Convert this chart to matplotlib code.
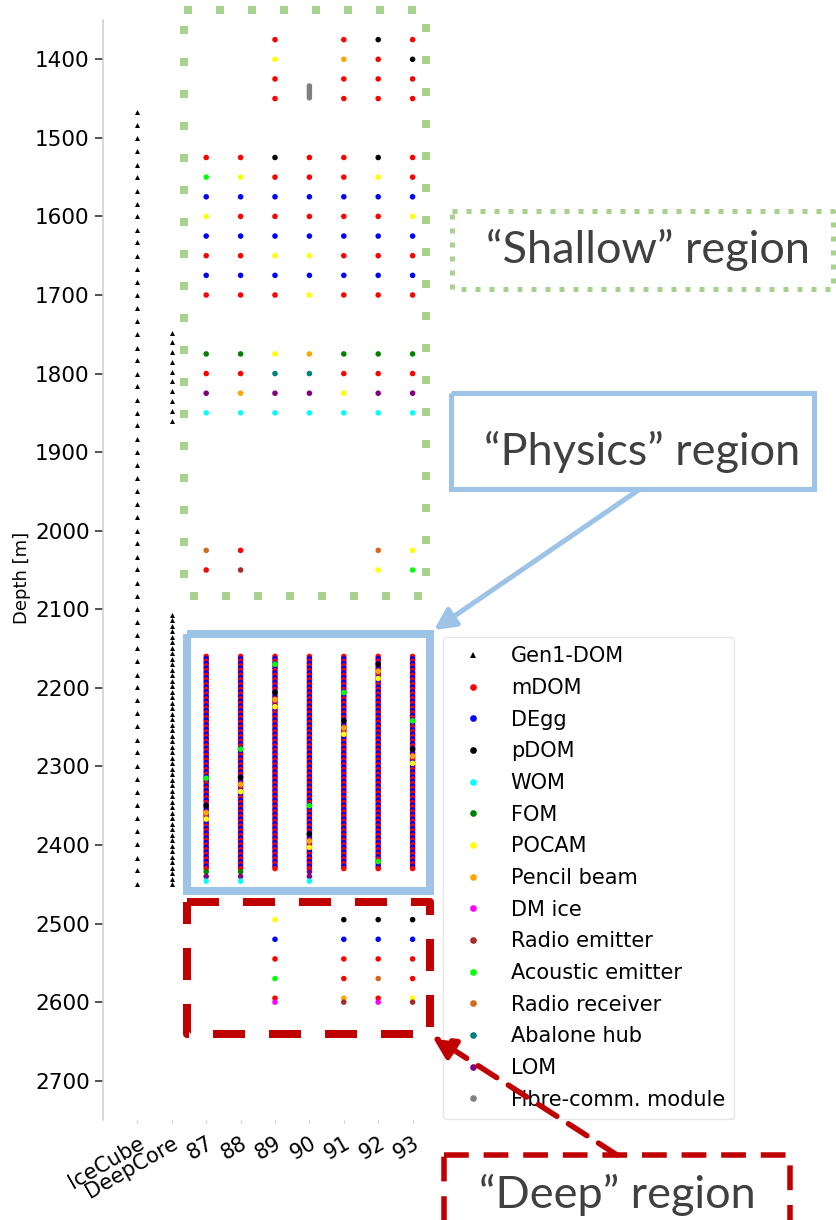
import matplotlib
matplotlib.use('Agg')
import matplotlib.pyplot as plt
from matplotlib.lines import Line2D

# device types and their colours (legend order)
DEVICES = ['Gen1-DOM', 'mDOM', 'DEgg', 'pDOM', 'WOM', 'FOM', 'POCAM', 'Pencil beam',
           'DM ice', 'Radio emitter', 'Acoustic emitter', 'Radio receiver',
           'Abalone hub', 'LOM', 'Fibre-comm. module']
COLORS = ['black', 'red', 'blue', 'black', 'cyan', 'green', 'yellow', 'orange',
          'magenta', 'brown', 'lime', 'chocolate', 'teal', 'purple', 'gray']

XLABELS = ['IceCube', 'DeepCore', '87', '88', '89', '90', '91', '92', '93']
STRINGS = ['87', '88', '89', '90', '91', '92', '93']

# Gen1 DOM depths [m]
ICECUBE_DEPTHS = [1467, 1484, 1500, 1517, 1534, 1550, 1567, 1584, 1600, 1617,
                  1633, 1650, 1667, 1683, 1700, 1717, 1733, 1750, 1767, 1783,
                  1800, 1816, 1833, 1850, 1866, 1883, 1900, 1916, 1933, 1950,
                  1966, 1983, 2000, 2016, 2033, 2049, 2066, 2083, 2099, 2116,
                  2133, 2149, 2166, 2183, 2199, 2216, 2232, 2249, 2266, 2282,
                  2299, 2316, 2332, 2349, 2366, 2382, 2399, 2416, 2432, 2449]
DEEPCORE_DEPTHS = [1748, 1760, 1773, 1785, 1798, 1810, 1822, 1835, 1847, 1860,
                   2107, 2114, 2121, 2128, 2135, 2142, 2149, 2156, 2163, 2170,
                   2177, 2184, 2191, 2198, 2205, 2212, 2219, 2226, 2233, 2240,
                   2247, 2254, 2261, 2268, 2275, 2282, 2289, 2296, 2303, 2310,
                   2317, 2324, 2331, 2338, 2345, 2352, 2359, 2366, 2373, 2380,
                   2387, 2394, 2401, 2408, 2415, 2422, 2429, 2436, 2443, 2450]

# physics region: dense mDOM / DEgg column, same on every string
PHYSICS_DEPTHS = [2160, 2163, 2166, 2169, 2172, 2175, 2178, 2181, 2184, 2187,
                  2190, 2193, 2196, 2199, 2202, 2205, 2208, 2211, 2214, 2217,
                  2220, 2223, 2226, 2229, 2232, 2235, 2238, 2241, 2244, 2247,
                  2250, 2253, 2256, 2259, 2262, 2265, 2268, 2271, 2274, 2277,
                  2280, 2283, 2286, 2289, 2292, 2295, 2298, 2301, 2304, 2307,
                  2310, 2313, 2316, 2319, 2322, 2325, 2328, 2331, 2334, 2337,
                  2340, 2343, 2346, 2349, 2352, 2355, 2358, 2361, 2364, 2367,
                  2370, 2373, 2376, 2379, 2382, 2385, 2388, 2391, 2394, 2397,
                  2400, 2403, 2406, 2409, 2412, 2415, 2418, 2421, 2424, 2427,
                  2430]
PHYSICS_BASE = ['mDOM', 'DEgg']

m, D, pD, W, F, P = 'mDOM', 'DEgg', 'pDOM', 'WOM', 'FOM', 'POCAM'
PB, DM, RE, AE, RR, AB, L, FC = ('Pencil beam', 'DM ice', 'Radio emitter', 'Acoustic emitter',
                                 'Radio receiver', 'Abalone hub', 'LOM', 'Fibre-comm. module')

# special modules inside the physics region
PHYSICS_SPECIAL = {
    '87': [(2315, AE), (2350, pD), (2359, PB), (2367, P), (2434, F), (2440, L), (2446, W)],
    '88': [(2278, AE), (2314, pD), (2323, PB), (2332, P), (2434, F), (2440, L), (2446, W)],
    '89': [(2170, AE), (2206, pD), (2215, PB), (2224, P)],
    '90': [(2350, AE), (2386, pD), (2395, PB), (2403, P), (2434, L), (2440, L), (2446, W)],
    '91': [(2206, AE), (2242, pD), (2251, PB), (2259, P)],
    '92': [(2170, pD), (2179, PB), (2188, P), (2421, AE)],
    '93': [(2242, AE), (2278, pD), (2287, PB), (2296, P)],
}

# shallow + deep region modules
SPARSE = {
    '87': [(1525, m), (1550, AE), (1575, D), (1600, P), (1625, D), (1650, m), (1675, D),
           (1700, m), (1775, F), (1800, m), (1825, L), (1850, W), (2025, RR), (2050, m)],
    '88': [(1525, m), (1550, P), (1575, D), (1600, m), (1625, D), (1650, m), (1675, D),
           (1700, m), (1775, F), (1800, m), (1825, PB), (1850, W), (2025, m), (2050, RE)],
    '89': [(1375, m), (1400, P), (1425, m), (1450, m), (1525, pD), (1550, m), (1575, D),
           (1600, m), (1625, D), (1650, P), (1675, D), (1700, m), (1775, P), (1800, AB),
           (1825, L), (1850, W),
           (2495, P), (2520, D), (2545, m), (2570, AE), (2595, m), (2600, DM)],
    '90': [(1434, FC), (1437, FC), (1440, FC), (1443, FC), (1446, FC), (1449, FC),
           (1525, m), (1550, m), (1575, D), (1600, m), (1625, D), (1650, P), (1675, D),
           (1700, P), (1775, PB), (1800, AB), (1825, L), (1850, W)],
    '91': [(1375, m), (1400, PB), (1425, m), (1450, m), (1525, m), (1550, m), (1575, D),
           (1600, m), (1625, D), (1650, m), (1675, D), (1700, m), (1775, F), (1800, m),
           (1825, P), (1850, W),
           (2495, pD), (2520, D), (2545, m), (2570, m), (2595, PB), (2600, RE)],
    '92': [(1375, pD), (1400, m), (1425, m), (1450, m), (1525, pD), (1550, P), (1575, D),
           (1600, m), (1625, D), (1650, m), (1675, D), (1700, m), (1775, F), (1800, m),
           (1825, L), (1850, W), (2025, RR), (2050, P),
           (2495, pD), (2520, D), (2545, m), (2570, RR), (2595, m), (2600, DM)],
    '93': [(1375, m), (1400, pD), (1425, m), (1450, m), (1525, m), (1550, m), (1575, D),
           (1600, P), (1625, D), (1650, m), (1675, D), (1700, m), (1775, F), (1800, m),
           (1825, L), (1850, W), (2025, P), (2050, AE),
           (2495, pD), (2520, D), (2545, m), (2570, m), (2595, P), (2600, RE)],
}

color_of = dict(zip(DEVICES, COLORS))

fig = plt.figure(figsize=(8.36, 12.2), dpi=100)
ax = fig.add_axes([103 / 836, 1 - 1120 / 1220, 344 / 836, 1100 / 1220])

# Gen1 strings
ax.scatter([0] * len(ICECUBE_DEPTHS), ICECUBE_DEPTHS, marker='^', s=13, c='black', linewidths=0)
ax.scatter([1] * len(DEEPCORE_DEPTHS), DEEPCORE_DEPTHS, marker='^', s=13, c='black', linewidths=0)

for i, s in enumerate(STRINGS):
    xpos = i + 2
    xs, ys, cs = [], [], []
    for k, d in enumerate(PHYSICS_DEPTHS):
        xs.append(xpos); ys.append(d)
        cs.append(color_of[PHYSICS_BASE[k % 2]])
    ax.scatter(xs, ys, s=16, c=cs, linewidths=0, zorder=2)
    mods = PHYSICS_SPECIAL[s] + SPARSE[s]
    ax.scatter([xpos] * len(mods), [d for d, _ in mods], s=16,
               c=[color_of[t] for _, t in mods], linewidths=0, zorder=3)

ax.set_xlim(-1, 9)
ax.set_ylim(2750, 1350)
ax.set_xticks(range(len(XLABELS)))
ax.set_xticklabels(XLABELS, rotation=30, ha='right', va='top', rotation_mode='anchor', fontsize=15)
ax.set_yticks(range(1400, 2701, 100))
ax.tick_params(axis='y', labelsize=15.5, length=6, width=1.1, color='#222222')
ax.tick_params(axis='x', length=2.5, width=0.8, color='#cccccc', pad=7)
ax.set_ylabel('Depth [m]', fontsize=13)
ax.yaxis.set_label_coords(-0.209, 0.493)
for side in ['top', 'right', 'bottom']:
    ax.spines[side].set_visible(False)
ax.spines['left'].set_color('#cccccc')
ax.spines['left'].set_linewidth(1.1)

handles = []
for name, col in zip(DEVICES, COLORS):
    mk = '^' if name == 'Gen1-DOM' else 'o'
    handles.append(Line2D([], [], marker=mk, linestyle='', color=col, markersize=4.8,
                          markeredgewidth=0, label=name))
leg = ax.legend(handles=handles, loc='upper left', bbox_to_anchor=(443 / 836, 1 - 637 / 1220),
                bbox_transform=fig.transFigure, borderaxespad=0, fontsize=15,
                labelspacing=0.56, handletextpad=0.8, borderpad=0.45, frameon=True)
leg.get_frame().set_edgecolor('#e0e0e0')

# overlay for the region boxes and call-outs (pixel coordinates)
ov = fig.add_axes([0, 0, 1, 1], zorder=10)
ov.set_xlim(0, 836)
ov.set_ylim(1220, 0)
ov.axis('off')

green = '#a9d18e'
blue = '#9dc3e6'
red = '#c00000'
txt = '#404040'
PX = 0.72  # px -> pt


def box(x0, y0, x1, y1, color, lw_px, ls):
    ov.plot([x0, x1, x1, x0, x0], [y0, y0, y1, y1, y0], color=color, lw=lw_px * PX,
            linestyle=ls, solid_joinstyle='miter', solid_capstyle='butt', dash_capstyle='butt')


box(184, 10, 426, 596, green, 8, (0, (1, 3)))
box(452, 211, 833, 289, green, 5, (0, (1, 1.8)))
ov.text(648, 250, '\u201cShallow\u201d region', fontsize=32.5, color=txt, family='Lato',
        ha='center', va='center')

box(187, 634, 430, 891, blue, 8, '-')
box(451, 393, 814, 489, blue, 5, '-')
ov.text(642, 452, '\u201cPhysics\u201d region', fontsize=32.5, color=txt, family='Lato',
        ha='center', va='center')
ov.annotate('', xy=(434, 630), xytext=(640, 489),
            arrowprops=dict(arrowstyle='-|>', lw=5 * PX, color=blue, mutation_scale=32,
                            shrinkA=0, shrinkB=0))

box(187, 902, 430, 1034, red, 8, (0, (4, 3)))
box(444, 1155, 790, 1240, red, 5.5, (0, (4.5, 2.7)))
ov.text(617, 1195, '\u201cDeep\u201d region', fontsize=32.5, color=txt, family='Lato',
        ha='center', va='center')
ov.annotate('', xy=(432, 1036), xytext=(617, 1155),
            arrowprops=dict(arrowstyle='-|>', lw=5.5 * PX, color=red, mutation_scale=34,
                            shrinkA=0, shrinkB=0, linestyle=(0, (4, 2.5))))

fig.savefig('out.png', dpi=100)
